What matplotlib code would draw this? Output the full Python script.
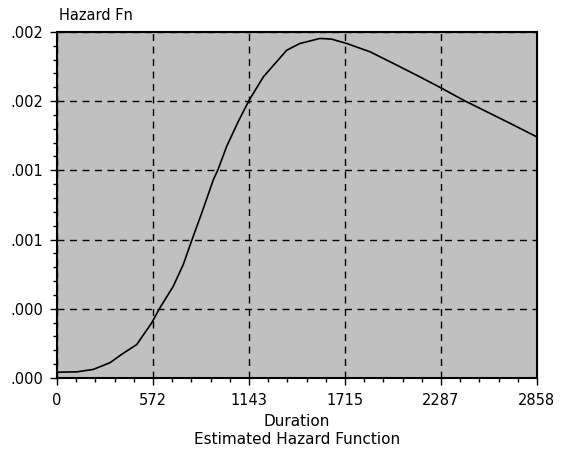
import numpy as np
import matplotlib
matplotlib.use('Agg')
import matplotlib.pyplot as plt
from matplotlib.ticker import FuncFormatter, AutoMinorLocator

# Estimated hazard function values
duration = [0, 117, 216, 316, 385, 475, 564, 613, 692, 752, 802, 862, 931,
            960, 1010, 1079, 1145, 1229, 1368, 1447, 1566, 1636, 1725, 1864,
            2023, 2161, 2291, 2419, 2558, 2697, 2858]
hazard = [0.000033, 0.000035, 0.000049, 0.000088, 0.000136, 0.000193,
          0.000318, 0.000405, 0.000529, 0.000655, 0.000793, 0.000953,
          0.001145, 0.001206, 0.001337, 0.001481, 0.001606, 0.001740,
          0.001894, 0.001933, 0.001962, 0.001958, 0.001933, 0.001885,
          0.001808, 0.001740, 0.001674, 0.001606, 0.001539, 0.001472,
          0.001393]

x_max = 2858
x_ticks = np.linspace(0, x_max, 6)
x_labels = ['0', '572', '1143', '1715', '2287', '2858']
y_ticks = [0, 0.0004, 0.0008, 0.0012, 0.0016, 0.002]

fig = plt.figure(figsize=(5.64, 4.62), dpi=100)
ax = fig.add_axes([0.101, 0.182, 0.851, 0.749])
ax.set_facecolor('#c0c0c0')

ax.plot(duration, hazard, color='black', lw=1.2)

ax.set_xlim(0, x_max)
ax.set_ylim(0, 0.002)
ax.set_xticks(x_ticks)
ax.set_xticklabels(x_labels)
ax.set_yticks(y_ticks)
ax.yaxis.set_major_formatter(FuncFormatter(lambda v, p: ('%.3f' % v).lstrip('0')))
ax.xaxis.set_minor_locator(AutoMinorLocator(5))
ax.yaxis.set_minor_locator(AutoMinorLocator(5))

ax.grid(True, which='major', color='black', linestyle=(0, (5, 4)), lw=1)
ax.tick_params(which='major', length=5, width=1, labelsize=10.5, direction='out')
ax.tick_params(axis='x', which='major', pad=6)
ax.tick_params(axis='y', which='major', pad=5)
ax.tick_params(which='minor', length=3, width=1, direction='out')
for s in ax.spines.values():
    s.set_linewidth(1.5)

ax.set_xlabel('Duration', fontsize=11)
ax.xaxis.label.set_va('center')
ax.xaxis.set_label_coords(0.5, -0.127)
fig.text(0.527, 1 - 439 / 462, 'Estimated Hazard Function', ha='center',
         va='center', fontsize=11)
fig.text(0.104, 1 - 16 / 462, 'Hazard Fn', ha='left', va='center', fontsize=10.5)

fig.savefig('out.png', dpi=100)
